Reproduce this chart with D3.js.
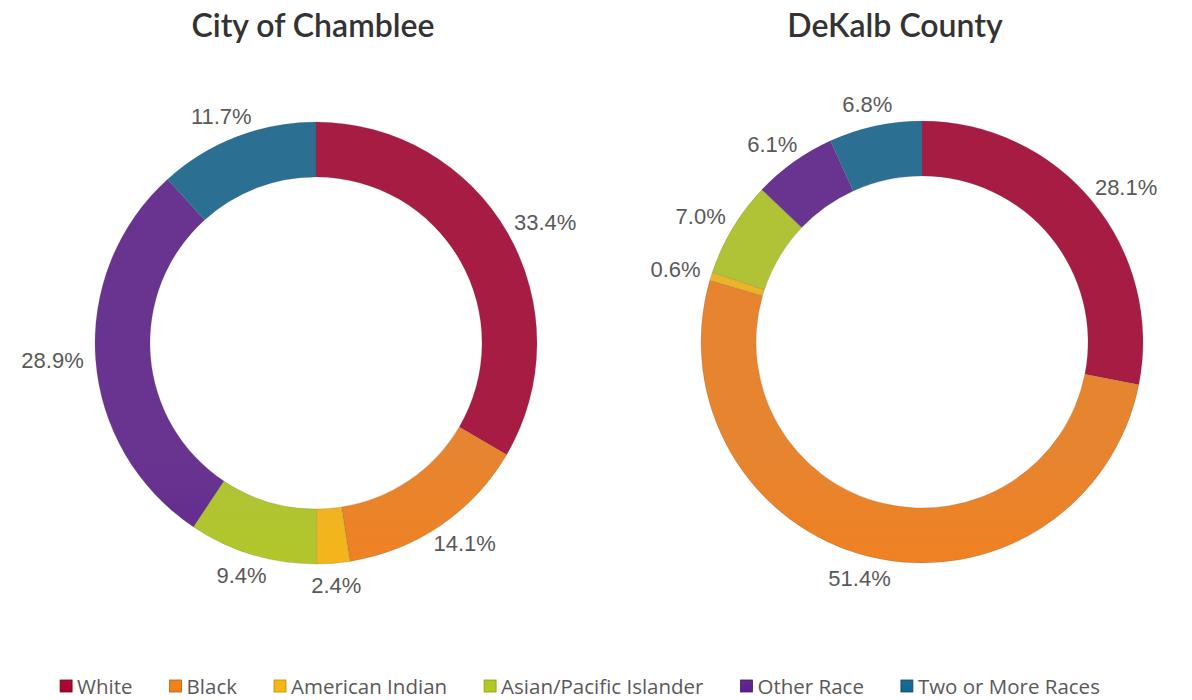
<!DOCTYPE html>
<html lang="en">
<head>
  <meta charset="utf-8">
  <script src="https://d3js.org/d3.v7.min.js"></script>
  <style>
    body { margin: 0; background: #fff; }
    svg { display: block; background-color: #fff; }
  </style>
</head>
<body>
<script>
// data
const races = ["White", "Black", "American Indian", "Asian/Pacific Islander", "Other Race", "Two or More Races"];
const chambleeShares = [33.4, 14.1, 2.4, 9.4, 28.9, 11.7];
const dekalbShares = [28.1, 51.4, 0.6, 7.0, 6.1, 6.8];
const chartTitles = ["City of Chamblee", "DeKalb County"];
const raceColors = ["#a8002c", "#f77f15", "#fdb80c", "#b4cb1e", "#5c1e8c", "#11658f"];

const width = 1192, height = 700;
const outerR = 221, innerR = 166;
// layout of the two panels
const panels = [
  { title: chartTitles[0], values: chambleeShares, cx: 316, cy: 343, titleX: 313 },
  { title: chartTitles[1], values: dekalbShares, cx: 922, cy: 342, titleX: 895 }
];

const svg = d3.select("body").append("svg").attr("width", width).attr("height", height);
const defs = svg.append("defs");

const color = d3.scaleOrdinal().domain(races).range(raceColors);

// slice gradients: top slightly washed out, lower part full colour
races.forEach(function(r, i) {
  const base = d3.color(color(r));
  const g = defs.append("linearGradient")
    .attr("id", "grad" + i)
    .attr("gradientUnits", "userSpaceOnUse")
    .attr("x1", 0).attr("y1", 120).attr("x2", 0).attr("y2", 566);
  g.append("stop").attr("offset", "0%").attr("stop-color", d3.interpolateRgb(base, "#a09aa4")(0.18));
  g.append("stop").attr("offset", "45%").attr("stop-color", base.formatHex());
  g.append("stop").attr("offset", "100%").attr("stop-color", base.formatHex());
  // legend swatch version
  const lg = defs.append("linearGradient").attr("id", "lg" + i)
    .attr("x1", 0).attr("y1", 0).attr("x2", 0).attr("y2", 1);
  lg.append("stop").attr("offset", "0%").attr("stop-color", d3.interpolateRgb(base, "#a09aa4")(0.1));
  lg.append("stop").attr("offset", "100%").attr("stop-color", base.formatHex());
});

const pie = d3.pie().sort(null).value(function(d) { return d.value; });
const arc = d3.arc().innerRadius(innerR).outerRadius(outerR);

panels.forEach(function(p) {
  const data = races.map(function(r, i) { return { race: r, idx: i, value: p.values[i] }; });
  const arcs = pie(data);

  svg.append("text")
    .attr("x", p.titleX).attr("y", 37)
    .attr("text-anchor", "middle")
    .style("font-family", "Lato, 'DejaVu Sans', sans-serif")
    .style("font-weight", "600")
    .style("font-size", "32px")
    .style("fill", "#333")
    .text(p.title);

  // gradient is in page space, so paths get the translate themselves
  svg.append("g").selectAll("path")
    .data(arcs)
    .enter()
    .append("path")
    .attr("d", arc)
    .attr("transform", "translate(" + p.cx + "," + p.cy + ")")
    .attr("fill", function(d) { return "url(#grad" + d.data.idx + ")"; })
    .attr("stroke", "rgba(80,80,80,0.25)")
    .attr("stroke-width", 0.7);

  // labels just outside each slice, pushed out by half their box
  const lab = svg.append("g");
  arcs.forEach(function(d) {
    const mid = (d.startAngle + d.endAngle) / 2;
    const sx = Math.sin(mid), sy = -Math.cos(mid);
    const t = lab.append("text")
      .attr("text-anchor", "middle")
      .attr("dominant-baseline", "central")
      .style("font-family", "'Liberation Sans Narrow', 'Arial Narrow', 'Liberation Sans', sans-serif")
      .style("font-size", "22px")
      .style("fill", "#595959")
      .text(d.data.value.toFixed(1) + "%");
    const w = t.node().getComputedTextLength();
    const h = 20;
    const r = outerR + 12;
    t.attr("x", p.cx + sx * r + sx * w / 2)
     .attr("y", p.cy + sy * r + sy * h / 2);
  });
});

// legend along the bottom, centred
const legend = svg.append("g");
const gap = 37;
let x = 0;
races.forEach(function(r, i) {
  const it = legend.append("g");
  it.append("rect")
    .attr("x", 0).attr("y", -6)
    .attr("width", 12).attr("height", 12)
    .attr("fill", "url(#lg" + i + ")")
    .attr("stroke", d3.color(color(r)).darker(0.8))
    .attr("stroke-width", 0.8);
  const t = it.append("text")
    .attr("x", 17).attr("y", 0)
    .attr("dominant-baseline", "central")
    .style("font-family", "'Open Sans', 'Noto Sans', sans-serif")
    .style("font-size", "20.5px")
    .style("fill", "#595959")
    .text(r);
  const w = 17 + t.node().getComputedTextLength();
  it.attr("transform", "translate(" + x + ",0)");
  x += w + gap;
});
const total = x - gap;
legend.attr("transform", "translate(" + (580 - total / 2) + ",686)");
</script>
</body>
</html>
